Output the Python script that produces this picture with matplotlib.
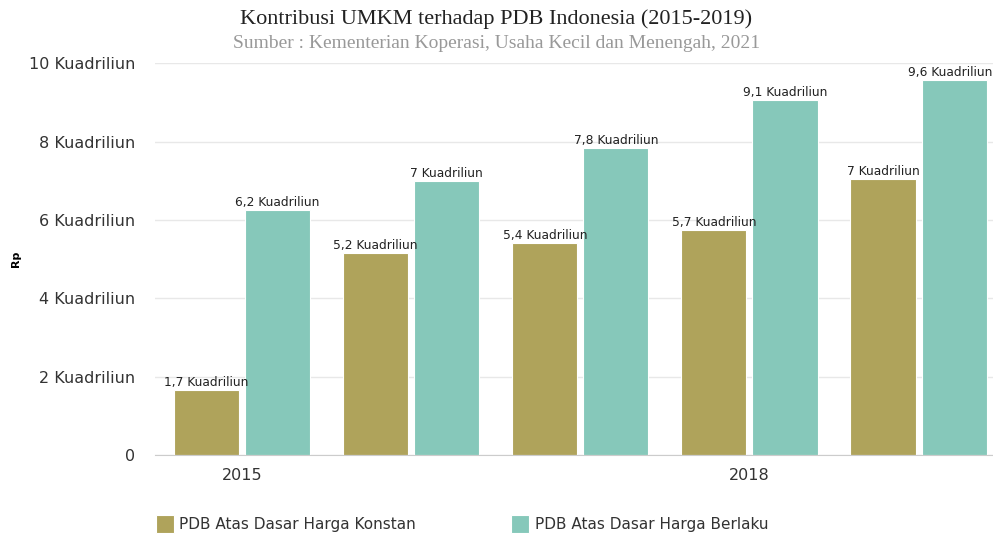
import matplotlib.pyplot as plt
import numpy as np

years = ["2015", "2016", "2017", "2018", "2019"]
konstan = [1.66, 5.15, 5.42, 5.74, 7.04]
berlaku = [6.25, 6.99, 7.83, 9.06, 9.57]
yticks = [0, 2, 4, 6, 8, 10]
shown_years = ["2015", "2018"]

c_konstan = "#afa35b"
c_berlaku = "#86c8ba"


def fmt_label(v):
    s = f"{v:.1f}".replace(".", ",")
    if s.endswith(",0"):
        s = s[:-2]
    return s + " Kuadriliun"


fig = plt.figure(figsize=(9.93, 5.36), dpi=100)
ax = fig.add_axes([0.156, 0.151, 0.844, 0.731])

x = np.arange(len(years))
w = 0.385
off = 0.21
b1 = ax.bar(x - off, konstan, w, color=c_konstan, edgecolor="white", linewidth=0.8,
            label="PDB Atas Dasar Harga Konstan", zorder=2)
b2 = ax.bar(x + off, berlaku, w, color=c_berlaku, edgecolor="white", linewidth=0.8,
            label="PDB Atas Dasar Harga Berlaku", zorder=2)

xmax = 4.44
for bars, vals in [(b1, konstan), (b2, berlaku)]:
    for r, v in zip(bars, vals):
        cx = r.get_x() + r.get_width() / 2
        t = ax.text(cx, v + 0.03, fmt_label(v), ha="center", va="bottom",
                    fontsize=8.8, color="#222222", clip_on=False, zorder=3)
        # keep the last label inside the figure
        if cx + 0.24 > xmax:
            t.set_x(xmax - 0.005)
            t.set_ha("right")

ax.set_xlim(-0.515, xmax)
ax.set_ylim(0, 10)
ax.set_yticks(yticks)
ax.set_yticklabels([str(t) if t == 0 else f"{t} Kuadriliun" for t in yticks],
                   fontsize=11.5, color="#333333")
ax.set_xticks([years.index(y) for y in shown_years])
ax.set_xticklabels(shown_years, fontsize=11.5, color="#333333")
ax.tick_params(axis="both", length=0)
ax.tick_params(axis="y", pad=14)
ax.tick_params(axis="x", pad=9)
ax.grid(axis="y", color="#e8e8e8", linewidth=1, zorder=0)
for s in ["top", "right", "left"]:
    ax.spines[s].set_visible(False)
ax.spines["bottom"].set_color("#cccccc")
ax.set_ylabel("Rp", fontsize=8, fontweight="bold", labelpad=6)

fig.text(0.5, 0.964, "Kontribusi UMKM terhadap PDB Indonesia (2015-2019)",
         ha="center", va="center", family="Liberation Serif", fontsize=16, color="#222222")
fig.text(0.5, 0.918, "Sumber : Kementerian Koperasi, Usaha Kecil dan Menengah, 2021",
         ha="center", va="center", family="Liberation Serif", fontsize=14, color="#999999")

fig.legend(handles=[b1, b2], loc="lower left", bbox_to_anchor=(0.143, -0.02), ncol=2,
           frameon=False, fontsize=11, handlelength=1.2, handleheight=1.4,
           handletextpad=0.35, columnspacing=6.2, labelcolor="#333333")

fig.savefig("out.png", dpi=100)
